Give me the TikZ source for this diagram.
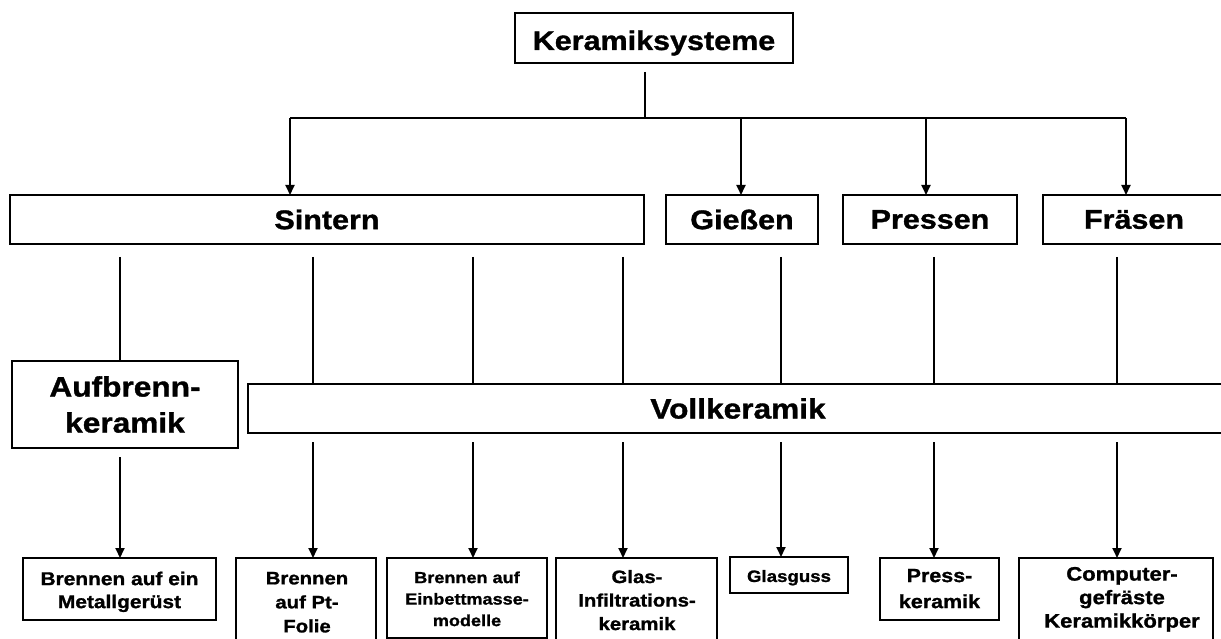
\documentclass[tikz,border=0pt]{standalone}
\usepackage{fontspec}
\setmainfont{Liberation Sans}[FakeStretch=1.13, BoldFeatures={FakeBold=1.2}]
\usetikzlibrary{arrows.meta}
\begin{document}
\begin{tikzpicture}[x=1pt,y=-1pt,
  box/.style={draw=black, line width=2pt, inner sep=0pt, outer sep=0pt, align=center},
  txt/.style={inner sep=0pt, outer sep=0pt, align=center, anchor=north},
  conn/.style={draw=black, line width=1.8pt},
  arr/.style={conn, -{Triangle[length=10pt,width=9pt]}},
  hA/.style={font=\bfseries\fontsize{27}{32}\selectfont},
]
\useasboundingbox (0,0) rectangle (1221,639);
\clip (0,0) rectangle (1221,639);
\fill[white] (0,0) rectangle (1221,639);

% top level
\node[box, hA, minimum width=278pt, minimum height=50pt, text height=24pt, text depth=0pt] (ks) at (654,38) {Keramiksysteme};

% second level
\node[box, hA, minimum width=634pt, minimum height=49pt] (sint) at (327,219.5) {Sintern};
\node[box, hA, minimum width=152pt, minimum height=49pt] (giess) at (742,219.5) {Gießen};
\node[box, hA, minimum width=174pt, minimum height=49pt] (press) at (930,219.5) {Pressen};
\node[box, hA, minimum width=182pt, minimum height=49pt] (fraes) at (1134,219.5) {Fräsen};

% third level
\node[box, font=\bfseries\fontsize{28}{36}\selectfont, minimum width=226pt, minimum height=87pt] (aufb) at (125,404.5) {Aufbrenn-\\keramik};
\node[box, font=\bfseries\fontsize{28}{34}\selectfont, minimum width=980pt, minimum height=49pt] (voll) at (738,408.5) {Vollkeramik};

% bottom level boxes
\node[box, minimum width=193pt, minimum height=62pt] (b1) at (119.5,589) {};
\node[box, minimum width=140pt, minimum height=90pt] (b2) at (306,603) {};
\node[box, minimum width=160pt, minimum height=80pt] (b3) at (467,598) {};
\node[box, minimum width=161pt, minimum height=90pt] (b4) at (636.5,603) {};
\node[box, minimum width=118pt, minimum height=36pt] (b5) at (789,575) {};
\node[box, minimum width=119pt, minimum height=62pt] (b6) at (939.5,589) {};
\node[box, minimum width=194pt, minimum height=90pt] (b7) at (1116,603) {};

% bottom texts
\node[txt, font=\bfseries\fontsize{18.5}{23}\selectfont] (t1) at ([yshift=-13.7pt]b1.north) {Brennen auf ein\\Metallgerüst};
\node[txt, font=\bfseries\fontsize{18}{24}\selectfont] (t2) at ([xshift=1pt,yshift=-14pt]b2.north) {Brennen\\auf Pt-\\Folie};
\node[txt, font=\bfseries\fontsize{16}{21.5}\selectfont] (t3) at ([yshift=-13.5pt]b3.north) {Brennen auf\\Einbettmasse-\\modelle};
\node[txt, font=\bfseries\fontsize{18}{23.5}\selectfont] (t4) at ([xshift=0.5pt,yshift=-12pt]b4.north) {Glas-\\Infiltrations-\\keramik};
\node[txt, font=\bfseries\fontsize{16.5}{20}\selectfont] (t5) at ([yshift=-13pt]b5.north) {Glasguss};
\node[txt, font=\bfseries\fontsize{19}{26}\selectfont] (t6) at ([yshift=-11pt]b6.north) {Press-\\keramik};
\node[txt, font=\bfseries\fontsize{19.5}{23.5}\selectfont] (t7) at ([xshift=6pt,yshift=-9pt]b7.north) {Computer-\\gefräste\\Keramikkörper};

% junction coordinates
\coordinate (j0) at (645,118);
\coordinate (jS) at (290,118);
\coordinate (jG) at (741,118);
\coordinate (jP) at (926,118);
\coordinate (jF) at (1126,118);
\coordinate (c1) at (120,0);
\coordinate (c2) at (313,0);
\coordinate (c3) at (473,0);
\coordinate (c4) at (623,0);
\coordinate (c5) at (781,0);
\coordinate (c6) at (934,0);
\coordinate (c7) at (1117,0);

% top connectors
\draw[conn, shorten <=9pt] (ks.south -| j0) -- (j0);
\draw[conn] (jS) -- (jF);
\draw[arr] (jS) -- (jS |- sint.north);
\draw[arr] (jG) -- (jG |- giess.north);
\draw[arr] (jP) -- (jP |- press.north);
\draw[arr] (jF) -- (jF |- fraes.north);

% middle connectors
\draw[conn, shorten <=13pt] (sint.south -| c1) -- (aufb.north -| c1);
\draw[conn, shorten <=13pt] (sint.south -| c2) -- (voll.north -| c2);
\draw[conn, shorten <=13pt] (sint.south -| c3) -- (voll.north -| c3);
\draw[conn, shorten <=13pt] (sint.south -| c4) -- (voll.north -| c4);
\draw[conn, shorten <=13pt] (giess.south -| c5) -- (voll.north -| c5);
\draw[conn, shorten <=13pt] (press.south -| c6) -- (voll.north -| c6);
\draw[conn, shorten <=13pt] (fraes.south -| c7) -- (voll.north -| c7);

% bottom connectors
\draw[arr, shorten <=9pt] (aufb.south -| c1) -- (b1.north -| c1);
\draw[arr, shorten <=9pt] (voll.south -| c2) -- (b2.north -| c2);
\draw[arr, shorten <=9pt] (voll.south -| c3) -- (b3.north -| c3);
\draw[arr, shorten <=9pt] (voll.south -| c4) -- (b4.north -| c4);
\draw[arr, shorten <=9pt] (voll.south -| c5) -- (b5.north -| c5);
\draw[arr, shorten <=9pt] (voll.south -| c6) -- (b6.north -| c6);
\draw[arr, shorten <=9pt] (voll.south -| c7) -- (b7.north -| c7);
\end{tikzpicture}
\end{document}
